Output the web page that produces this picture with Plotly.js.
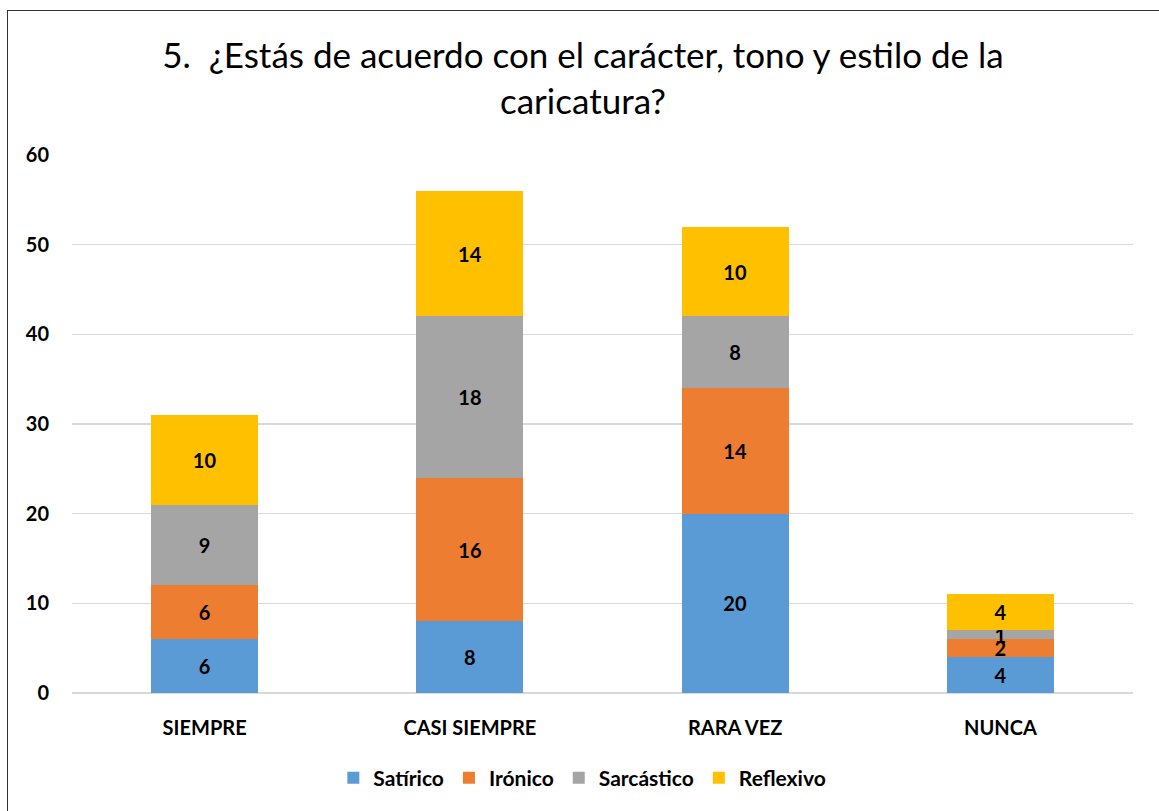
<!DOCTYPE html>
<html>
<head>
<meta charset="utf-8">
<script src="https://cdn.plot.ly/plotly-3.0.1.min.js"></script>
<style>
html,body{margin:0;padding:0;overflow:hidden;background:#fff;}
#chart{position:absolute;left:0;top:0;width:1159px;height:811px;}
#frame{position:absolute;left:7px;top:10px;width:1200px;height:900px;border:1.5px solid #333;pointer-events:none;}
</style>
</head>
<body>
<div id="chart"></div>
<div id="frame"></div>
<script>
const categories = ["SIEMPRE", "CASI SIEMPRE", "RARA VEZ", "NUNCA"];
const satirico = [6, 8, 20, 4];
const ironico = [6, 16, 14, 2];
const sarcastico = [9, 18, 8, 1];
const reflexivo = [10, 14, 10, 4];
const seriesNames = ["Satírico", "Irónico", "Sarcástico", "Reflexivo"];
const seriesColors = ["#5B9BD5", "#ED7D31", "#A5A5A5", "#FFC000"];
const seriesValues = [satirico, ironico, sarcastico, reflexivo];
const yTicks = [0, 10, 20, 30, 40, 50, 60];

const FONT = "Lato, 'Open Sans', sans-serif";

const traces = seriesValues.map((vals, i) => ({
  type: "bar",
  name: seriesNames[i],
  x: categories,
  y: vals,
  marker: {color: seriesColors[i]},
  text: vals.map(String),
  textposition: "inside",
  insidetextanchor: "middle",
  textangle: 0,
  constraintext: "none",
  textfont: {family: FONT, size: 20, color: "#000", weight: "bold"},
  hoverinfo: "none"
}));

const layout = {
  width: 1159, height: 811,
  margin: {l: 72, r: 26, t: 155, b: 118},
  paper_bgcolor: "#fff", plot_bgcolor: "#fff",
  barmode: "stack",
  bargap: 0.596,
  font: {family: FONT, color: "#000"},
  title: {
    text: "5.  ¿Estás de acuerdo con el carácter, tono y estilo de la<br>caricatura?",
    font: {family: FONT, size: 35, color: "#000"},
    x: 0.503, xanchor: "center",
    yref: "container", y: 1 - 68/811, yanchor: "top"
  },
  xaxis: {
    showgrid: false, zeroline: false, showline: false,
    tickfont: {family: FONT, size: 20, color: "#000", weight: "bold"},
    ticks: "", ticklabelstandoff: 21
  },
  yaxis: {
    range: [0, 60], tickvals: yTicks, ticktext: yTicks.map(String),
    showgrid: true, gridcolor: "#d9d9d9", gridwidth: 1.5,
    zeroline: true, zerolinecolor: "#d9d9d9", zerolinewidth: 1.5,
    showline: false, ticks: "", ticklabelstandoff: 22,
    tickfont: {family: FONT, size: 20, color: "#000", weight: "bold"}
  },
  showlegend: true,
  legend: {
    orientation: "h", x: 0.481, xanchor: "center", y: -0.158, yanchor: "middle",
    font: {family: FONT, size: 21, color: "#000", weight: "bold"},
    traceorder: "normal", itemwidth: 30
  }
};

Plotly.newPlot("chart", traces, layout, {displayModeBar: false, staticPlot: true});
</script>
</body>
</html>
